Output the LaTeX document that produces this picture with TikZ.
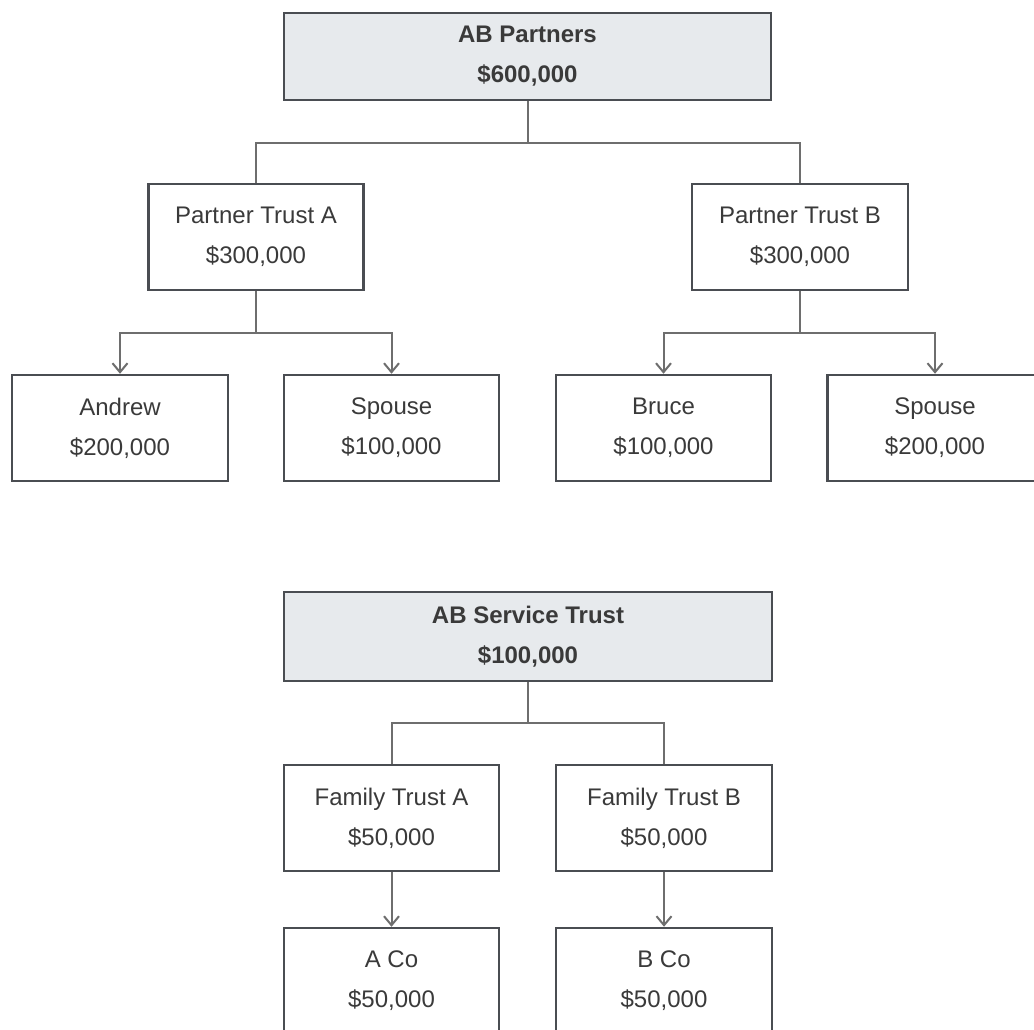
\documentclass[tikz,border=0pt]{standalone}
\usepackage{fontspec}
\setmainfont{Liberation Sans}
\usetikzlibrary{arrows.meta}
\definecolor{boxline}{HTML}{4A4D52}
\definecolor{conline}{HTML}{6E6E6E}
\definecolor{headfill}{HTML}{E7EAED}
\definecolor{txt}{HTML}{3A3A3A}
\tikzset{
  entity/.style={draw=boxline, line width=2.5pt, fill=white, text=txt,
    align=center, inner sep=0pt, font=\fontsize{24}{40}\selectfont},
  headbox/.style={entity, fill=headfill, font=\fontsize{24}{40}\selectfont\bfseries},
  link/.style={draw=conline, line width=2pt},
  arrowlink/.style={link, -{Straight Barb[length=9pt,width=15pt,line width=2pt]}}
}
\begin{document}
\begin{tikzpicture}[x=1pt,y=-1pt]
\useasboundingbox (0,0) rectangle (1034,1030);
\clip (0,0) rectangle (1034,1030);
\fill[white] (0,0) rectangle (1034,1030);
% top tree
\node[headbox, minimum width=487pt, minimum height=87pt] (abp) at (527.5,56.5) {AB Partners\\\$600,000};
\node[entity, minimum width=215pt, minimum height=106pt] (pta) at (256,237) {Partner Trust A\\\$300,000};
\node[entity, minimum width=216pt, minimum height=106pt] (ptb) at (800,237) {Partner Trust B\\\$300,000};
\node[entity, minimum width=216pt, minimum height=106pt] (andrew) at (120,428) {Andrew\\\$200,000};
\node[entity, minimum width=215pt, minimum height=106pt] (spa) at (391.5,428) {Spouse\\\$100,000};
\node[entity, minimum width=215pt, minimum height=106pt] (bruce) at (663.5,428) {Bruce\\\$100,000};
\node[entity, minimum width=215pt, minimum height=106pt] (spb) at (935,428) {Spouse\\\$200,000};
\coordinate (j1) at (527.5,143);
\coordinate (j2) at (256,333);
\coordinate (j3) at (800,333);
\draw[link] (abp.south) -- (j1);
\draw[link] (pta.north) |- (j1) -| (ptb.north);
\draw[link] (pta.south) -- (j2);
\draw[arrowlink] (j2) -| (andrew.north);
\draw[arrowlink] (j2) -| (spa.north);
\draw[link] (ptb.south) -- (j3);
\draw[arrowlink] (j3) -| (bruce.north);
\draw[arrowlink] (j3) -| (spb.north);
% bottom tree
\node[headbox, minimum width=488pt, minimum height=89pt] (abst) at (528,636.5) {AB Service Trust\\\$100,000};
\node[entity, minimum width=215pt, minimum height=106pt] (fta) at (391.5,818) {Family Trust A\\\$50,000};
\node[entity, minimum width=216pt, minimum height=106pt] (ftb) at (664,818) {Family Trust B\\\$50,000};
\node[entity, minimum width=215pt, minimum height=106pt] (aco) at (391.5,981) {A Co\\\$50,000};
\node[entity, minimum width=216pt, minimum height=106pt] (bco) at (664,981) {B Co\\\$50,000};
\coordinate (j4) at (528,723);
\draw[link] (abst.south) -- (j4);
\draw[link] (fta.north) |- (j4) -| (ftb.north);
\draw[arrowlink] (fta.south) -- (aco.north);
\draw[arrowlink] (ftb.south) -- (bco.north);
\end{tikzpicture}
\end{document}
